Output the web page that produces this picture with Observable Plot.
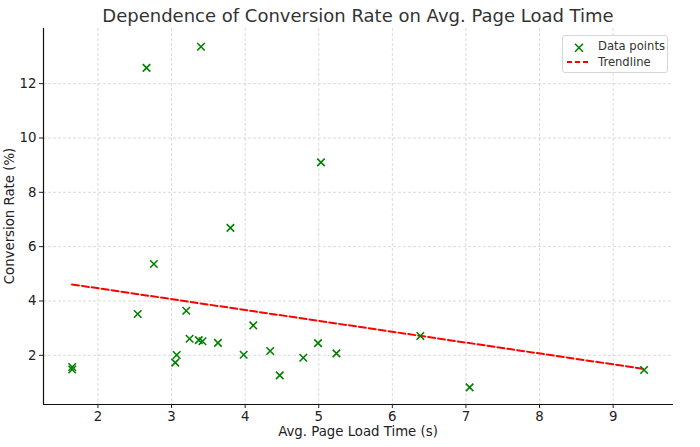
<!DOCTYPE html>
<html><head><meta charset="utf-8">
<script src="https://cdn.jsdelivr.net/npm/d3@7"></script>
<script src="https://cdn.jsdelivr.net/npm/@observablehq/plot@0.6"></script>
<style>
body{margin:0;background:#fff;font-family:"DejaVu Sans",sans-serif;}
#wrap{position:relative;width:700px;height:447px;overflow:hidden;}
#title{position:absolute;left:43px;width:630px;top:5px;text-align:center;font-size:18px;line-height:22px;color:#333;white-space:nowrap;}
#xlabel{position:absolute;left:43px;width:630px;top:424px;text-align:center;font-size:13.3px;line-height:16px;color:#222;white-space:nowrap;}
#ylabel{position:absolute;left:10px;top:216px;transform:translate(-50%,-50%) rotate(-90deg);font-size:13.3px;line-height:16px;color:#222;white-space:nowrap;}
#legend{position:absolute;left:562px;top:35px;width:104px;height:36px;border:1px solid #d6d6d6;border-radius:3px;background:rgba(255,255,255,0.85);}
#legend .row{position:absolute;left:0;font-size:11.6px;line-height:14px;color:#333;white-space:nowrap;}
</style></head><body>
<div id="wrap">
  <div id="chart"></div>
  <div id="title"></div>
  <div id="xlabel"></div>
  <div id="ylabel"></div>
  <div id="legend"></div>
</div>
<script>
const titleText = "Dependence of Conversion Rate on Avg. Page Load Time";
const xLabelText = "Avg. Page Load Time (s)";
const yLabelText = "Conversion Rate (%)";
const legendLabels = ["Data points", "Trendline"];

const loadTime = [1.65, 1.65, 2.54, 2.66, 2.76, 3.05, 3.07, 3.20, 3.245, 3.37, 3.40, 3.42, 3.63, 3.80, 3.98, 4.11, 4.34, 4.47, 4.79, 4.99, 5.03, 5.24, 6.38, 7.05, 9.42];
const convRate = [1.57, 1.48, 3.52, 12.58, 5.36, 1.73, 2.01, 3.64, 2.61, 2.56, 13.36, 2.52, 2.46, 6.69, 2.02, 3.10, 2.16, 1.26, 1.91, 2.45, 9.10, 2.07, 2.71, 0.82, 1.46];

const trendX = [1.647, 9.42];
const trendY = [4.61, 1.50];

const xTicks = [2, 3, 4, 5, 6, 7, 8, 9];
const yTicks = [2, 4, 6, 8, 10, 12];
const xDomain = [1.26, 9.82];
const yDomain = [0.19, 14.03];

const points = loadTime.map((x, i) => ({x, y: convRate[i]}));
const trend = trendX.map((x, i) => ({x, y: trendY[i]}));

const gridStyle = {stroke: "#b0b0b0", strokeOpacity: 0.6, strokeWidth: 0.8, strokeDasharray: "3,2"};

const chart = Plot.plot({
  width: 700,
  height: 447,
  marginLeft: 43,
  marginRight: 27,
  marginTop: 28,
  marginBottom: 43,
  style: {fontFamily: "DejaVu Sans, sans-serif", fontSize: "13.3px", color: "#222", background: "transparent"},
  x: {domain: xDomain, label: null},
  y: {domain: yDomain, label: null},
  marks: [
    Plot.gridX(xTicks, gridStyle),
    Plot.gridY(yTicks, gridStyle),
    Plot.axisX(xTicks, {tickSize: 4, tickPadding: 3, fontSize: 13.3, label: null, stroke: "#222", fill: "#222"}),
    Plot.axisY(yTicks, {tickSize: 4, tickPadding: 3, fontSize: 13.3, label: null, stroke: "#222", fill: "#222"}),
    Plot.ruleX([xDomain[0]], {stroke: "#111", strokeWidth: 1.2}),
    Plot.ruleY([yDomain[0]], {stroke: "#111", strokeWidth: 1.2}),
    Plot.line(trend, {x: "x", y: "y", stroke: "#ff0000", strokeWidth: 2, strokeDasharray: "7,3"}),
    Plot.dot(points, {x: "x", y: "y", symbol: "times", r: 3.5, stroke: "#008000", strokeWidth: 1.6})
  ]
});
document.getElementById("chart").appendChild(chart);

document.getElementById("title").textContent = titleText;
document.getElementById("xlabel").textContent = xLabelText;
document.getElementById("ylabel").textContent = yLabelText;

const lg = document.getElementById("legend");
lg.innerHTML = `
<svg width="104" height="36" style="position:absolute;left:0;top:0">
  <path d="M12,7.7 L20,15.7 M12,15.7 L20,7.7" stroke="#008000" stroke-width="1.6" fill="none"/>
  <line x1="4" x2="27" y1="26" y2="26" stroke="#ff0000" stroke-width="2" stroke-dasharray="5,3"/>
</svg>
<div class="row" style="left:35px;top:3px">${legendLabels[0]}</div>
<div class="row" style="left:35px;top:19px">${legendLabels[1]}</div>`;
</script>
</body></html>
